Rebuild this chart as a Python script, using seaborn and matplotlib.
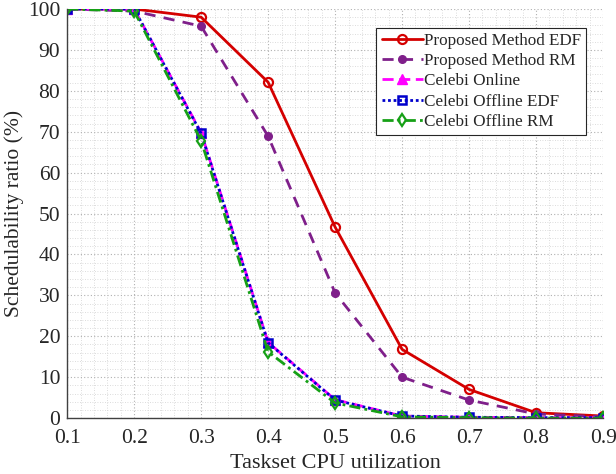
import matplotlib
matplotlib.use("Agg")
import matplotlib.pyplot as plt
import seaborn as sns
import pandas as pd
from matplotlib.ticker import MultipleLocator, AutoMinorLocator

utilization = [0.1, 0.2, 0.3, 0.4, 0.5, 0.6, 0.7, 0.8, 0.9]
proposed_edf = [100, 100, 98.0, 82.1, 46.7, 16.8, 7.0, 1.3, 0.5]
proposed_rm = [100, 99.5, 95.8, 68.9, 30.6, 10.0, 4.4, 1.0, 0.3]
celebi_online = [100, 100, 69.8, 18.5, 4.5, 0.5, 0.2, 0.1, 0.1]
celebi_off_edf = [100, 100, 69.6, 18.4, 4.4, 0.5, 0.2, 0.1, 0.1]
celebi_off_rm = [100, 99.5, 67.8, 16.2, 3.7, 0.3, 0.1, 0.0, 0.0]

series_names = ["Proposed Method EDF", "Proposed Method RM", "Celebi Online",
                "Celebi Offline EDF", "Celebi Offline RM"]
series_vals = [proposed_edf, proposed_rm, celebi_online, celebi_off_edf, celebi_off_rm]

rows = []
for name, vals in zip(series_names, series_vals):
    for u, v in zip(utilization, vals):
        rows.append({"u": u, "ratio": v, "method": name})
df = pd.DataFrame(rows)

sns.set_theme(style="white")
plt.rcParams["font.family"] = ["Liberation Serif", "DejaVu Serif"]
plt.rcParams["mathtext.fontset"] = "stix"

fig = plt.figure(figsize=(6.16, 4.74), dpi=100)
ax = fig.add_axes([0.109, 0.118, 0.870, 0.863])

styles = {
    "Proposed Method EDF": dict(color="#d40000", ls="-", marker="o", mfc="none", ms=6.5, mew=1.6),
    "Proposed Method RM": dict(color="#7f1f8a", ls=(0, (4, 3)), marker="o", mfc="#7f1f8a", ms=5.5, mew=1),
    "Celebi Online": dict(color="#ff00ff", ls=(0, (4, 2)), marker="^", mfc="#ff00ff", ms=6.5, mew=1),
    "Celebi Offline EDF": dict(color="#0000cc", ls=(0, (1, 1)), marker="s", mfc="none", ms=5.5, mew=1.8),
    "Celebi Offline RM": dict(color="#16a016", ls=(0, (4, 1.5, 1, 1.5)), marker="d", mfc="none", ms=6.5, mew=1.6),
}

for name in series_names:
    st = styles[name]
    sub = df[df["method"] == name]
    sns.lineplot(data=sub, x="u", y="ratio", ax=ax, color=st["color"], linestyle=st["ls"],
                 marker=st["marker"], markerfacecolor=st["mfc"], markeredgecolor=st["color"],
                 markersize=st["ms"], markeredgewidth=st["mew"], linewidth=2.0, label=name,
                 estimator=None, errorbar=None)

ax.set_xlim(0.1, 0.9)
ax.set_ylim(0, 100)
ax.set_xticks(utilization)
ax.set_xticklabels([f"{v:.1f}" for v in utilization])
ax.yaxis.set_major_locator(MultipleLocator(10))
ax.xaxis.set_minor_locator(AutoMinorLocator(5))
ax.yaxis.set_minor_locator(AutoMinorLocator(5))
ax.grid(True, which="major", color="#b0b0b0", linestyle=(0, (1, 2)), linewidth=0.8)
ax.grid(True, which="minor", color="#d0d0d0", linestyle=(0, (1, 2)), linewidth=0.6)
ax.set_axisbelow(True)

for s in ["top", "right"]:
    ax.spines[s].set_visible(False)
for s in ["left", "bottom"]:
    ax.spines[s].set_color("#404040")
    ax.spines[s].set_linewidth(1.0)

ax.tick_params(axis="both", which="major", direction="in", length=5, labelsize=15.5,
               colors="#262626", width=0.8)
ax.tick_params(axis="x", which="major", pad=8)
ax.tick_params(axis="y", which="major", pad=5)
ax.tick_params(axis="both", which="minor", length=0)
ax.set_xlabel("Taskset CPU utilization", fontsize=16, color="#262626", labelpad=4)
ax.set_ylabel("Schedulability ratio (%)", fontsize=15.5, color="#262626", labelpad=3)

leg = ax.legend(loc="upper right", fontsize=12.3, frameon=True, fancybox=False,
                edgecolor="#262626", framealpha=1, handlelength=2.4, handletextpad=0.1,
                borderpad=0.3, labelspacing=0.25, bbox_to_anchor=(0.985, 0.975))
leg.get_frame().set_linewidth(0.8)

fig.savefig("out.png", dpi=100)
